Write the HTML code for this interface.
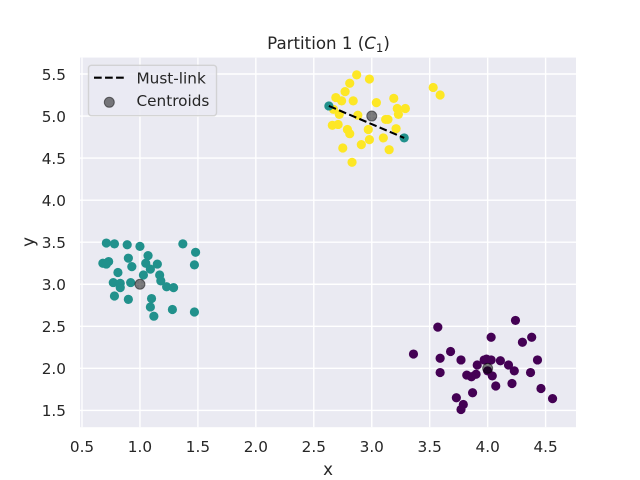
<!DOCTYPE html>
<html lang="en">
<head>
<meta charset="utf-8">
<title>Partition 1</title>
<style>
html,body{margin:0;padding:0;background:#fff;width:640px;height:480px;overflow:hidden}
svg{display:block}
text{font-family:"DejaVu Sans","Liberation Sans",sans-serif;fill:#262626}
</style>
</head>
<body>
<svg id="chart" xmlns="http://www.w3.org/2000/svg" width="640" height="480" viewBox="0 0 640 480">
  <rect x="0" y="0" width="640" height="480" fill="#fff"/>
  <defs><clipPath id="plot-clip"><rect x="80" y="57.6" width="496" height="369.6"/></clipPath></defs>
  <rect x="80" y="57.6" width="496" height="369.6" fill="#eaeaf2"/>
  <g id="grid" clip-path="url(#plot-clip)"></g>
  <g id="marks" clip-path="url(#plot-clip)"></g>
  <g id="xticks"></g>
  <g id="yticks"></g>
  <text x="328.5" y="49" text-anchor="middle" font-size="16.67">Partition 1 (<tspan font-style="italic">C</tspan><tspan font-size="11.7" dy="3">1</tspan><tspan dy="-3">)</tspan></text>
  <text x="328" y="475" text-anchor="middle" font-size="16.67">x</text>
  <text transform="translate(34 242) rotate(-90)" text-anchor="middle" font-size="16.67">y</text>
  <g>
    <rect x="88.5" y="65.3" width="128" height="50.4" rx="3" ry="3" fill="#eaeaf2" fill-opacity="0.8" stroke="#cccccc" stroke-opacity="0.8" stroke-width="1.4"/>
    <line x1="94" y1="77.7" x2="124" y2="77.7" stroke="#000" stroke-width="2.08" stroke-dasharray="7.7 3.33"/>
    <text x="136.5" y="83.3" font-size="15.28">Must-link</text>
    <circle cx="109.3" cy="102.3" r="5" fill="#000" fill-opacity="0.5" stroke="#000" stroke-opacity="0.5" stroke-width="1"/>
    <text x="136.5" y="106" font-size="15.28">Centroids</text>
  </g>
</svg>
<script>
const xTickLabels = ["0.5","1.0","1.5","2.0","2.5","3.0","3.5","4.0","4.5"];
const yTickLabels = ["1.5","2.0","2.5","3.0","3.5","4.0","4.5","5.0","5.5"];

const purpleX = [3.36,3.57,3.59,3.59,3.68,3.77,3.91,3.97,3.99,4.03,4.11,4.03,4.24,4.38,4.30,4.43,4.18,4.23,4.37,3.82,3.86,3.90,4.00,4.04,4.07,4.21,4.46,4.56,3.87,3.73,3.79,3.77];
const purpleY = [2.17,2.49,2.12,1.95,2.20,2.10,2.04,2.10,2.11,2.10,2.09,2.37,2.57,2.37,2.31,2.10,2.04,1.97,1.95,1.92,1.90,1.93,1.97,1.91,1.79,1.82,1.76,1.64,1.71,1.65,1.57,1.51];

const tealX = [0.71,0.78,0.89,1.00,1.37,1.48,1.07,0.90,0.73,0.68,0.71,1.05,1.15,1.47,0.93,1.09,0.81,1.03,1.17,1.18,0.77,0.83,0.92,0.83,1.23,1.29,0.78,0.90,1.10,1.09,1.28,1.47,1.12];
const tealY = [3.49,3.48,3.47,3.45,3.48,3.38,3.34,3.31,3.27,3.25,3.24,3.25,3.24,3.23,3.21,3.18,3.14,3.11,3.11,3.04,3.02,3.01,3.02,2.96,2.97,2.96,2.86,2.82,2.83,2.73,2.70,2.67,2.62];

const yellowX = [2.87,2.98,2.81,2.77,2.69,2.74,2.84,3.04,3.19,3.22,3.29,3.23,2.67,2.72,2.88,3.12,3.14,2.66,2.71,2.79,2.81,2.97,3.21,3.10,2.98,2.91,2.75,3.15,2.83,3.53,3.59];
const yellowY = [5.49,5.44,5.39,5.29,5.22,5.18,5.18,5.16,5.21,5.09,5.09,5.02,5.08,5.02,5.01,4.96,4.96,4.89,4.90,4.84,4.79,4.84,4.85,4.74,4.72,4.66,4.62,4.60,4.45,5.34,5.25];

const linkX = [2.63,3.28];
const linkY = [5.12,4.74];

const centroidX = [1.0,3.0,4.0];
const centroidY = [3.0,5.0,2.0];

const NS = "http://www.w3.org/2000/svg";
function xScale(v){ return 82 + (v - 0.5) * 115.9; }
function yScale(v){ return 410.4 - (v - 1.5) * 84.1; }

const gridLayer = document.getElementById("grid");
const marksLayer = document.getElementById("marks");
const xTickLayer = document.getElementById("xticks");
const yTickLayer = document.getElementById("yticks");

xTickLabels.forEach(function(label){
  const px = xScale(parseFloat(label));
  const g = document.createElementNS(NS, "line");
  
  
  g.setAttribute("x1", px); g.setAttribute("x2", px);
  g.setAttribute("y1", 57.6); g.setAttribute("y2", 427.2);
  g.setAttribute("stroke", "#fff"); g.setAttribute("stroke-width", 1.39);
  gridLayer.appendChild(g);
  const t = document.createElementNS(NS, "text");
  
  
  t.setAttribute("x", px); t.setAttribute("y", 452);
  t.setAttribute("text-anchor", "middle"); t.setAttribute("font-size", 15.28);
  t.textContent = label;
  xTickLayer.appendChild(t);
});

yTickLabels.forEach(function(label){
  const py = yScale(parseFloat(label));
  const g = document.createElementNS(NS, "line");
  
  
  g.setAttribute("x1", 80); g.setAttribute("x2", 576);
  g.setAttribute("y1", py); g.setAttribute("y2", py);
  g.setAttribute("stroke", "#fff"); g.setAttribute("stroke-width", 1.39);
  gridLayer.appendChild(g);
  const t = document.createElementNS(NS, "text");
  
  
  t.setAttribute("x", 66); t.setAttribute("y", py + 5.8);
  t.setAttribute("text-anchor", "end"); t.setAttribute("font-size", 15.28);
  t.textContent = label;
  yTickLayer.appendChild(t);
});

function drawPoints(xs, ys, color, name){
  xs.forEach(function(x, i){
    const c = document.createElementNS(NS, "circle");
    
    
    c.setAttribute("cx", xScale(x));
    c.setAttribute("cy", yScale(ys[i]));
    c.setAttribute("r", 4.6);
    c.setAttribute("fill", color);
    marksLayer.appendChild(c);
  });
}
drawPoints(purpleX, purpleY, "#440154", "cluster-purple-point");
drawPoints(yellowX, yellowY, "#fde725", "cluster-yellow-point");
drawPoints(tealX, tealY, "#21918c", "cluster-teal-point");
drawPoints(linkX, linkY, "#21918c", "must-link-endpoint");

const link = document.createElementNS(NS, "line");


link.setAttribute("x1", xScale(linkX[0])); link.setAttribute("y1", yScale(linkY[0]));
link.setAttribute("x2", xScale(linkX[1])); link.setAttribute("y2", yScale(linkY[1]));
link.setAttribute("stroke", "#000"); link.setAttribute("stroke-width", 2.08);
link.setAttribute("stroke-dasharray", "7.7 3.33");
marksLayer.appendChild(link);

centroidX.forEach(function(x, i){
  const c = document.createElementNS(NS, "circle");
  
  
  c.setAttribute("cx", xScale(x));
  c.setAttribute("cy", yScale(centroidY[i]));
  c.setAttribute("r", 5);
  c.setAttribute("fill", "#000"); c.setAttribute("fill-opacity", 0.5);
  c.setAttribute("stroke", "#000"); c.setAttribute("stroke-opacity", 0.5); c.setAttribute("stroke-width", 1);
  marksLayer.appendChild(c);
});
</script>
</body>
</html>
